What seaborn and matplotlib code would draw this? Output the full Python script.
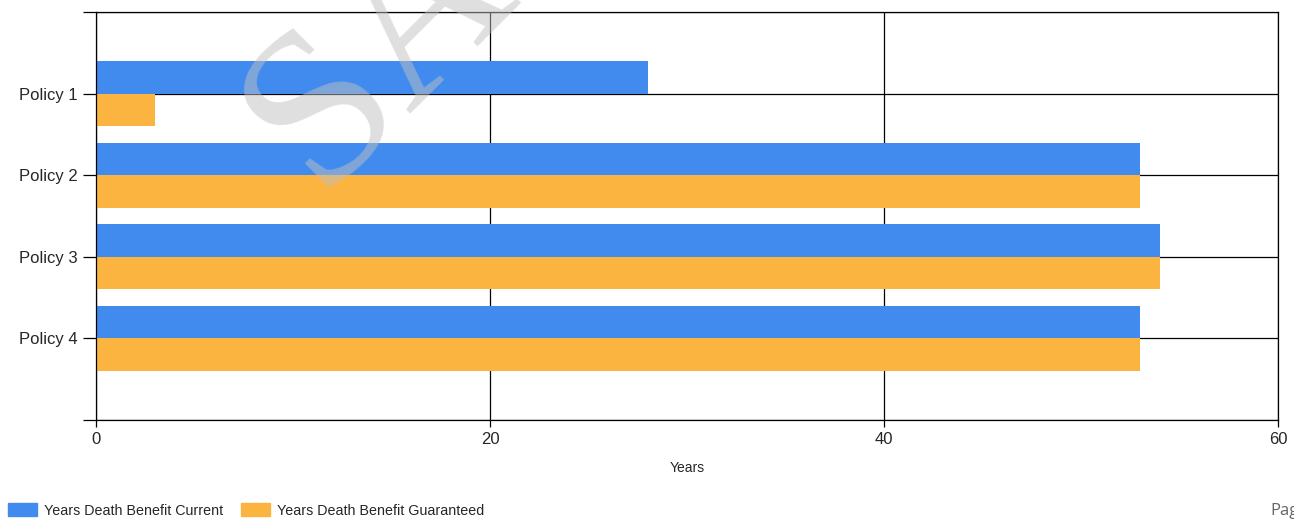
import pandas as pd
import seaborn as sns
import matplotlib.pyplot as plt
from matplotlib.patches import Patch

# values
policies = ["Policy 1", "Policy 2", "Policy 3", "Policy 4"]
current = [28, 53, 54, 53]
guaranteed = [3, 53, 54, 53]
series = ["Years Death Benefit Current", "Years Death Benefit Guaranteed"]
x_ticks = [0, 20, 40, 60]

df = pd.DataFrame({
    "policy": policies * 2,
    "years": current + guaranteed,
    "series": [series[0]] * 4 + [series[1]] * 4,
})

sns.set_style("white")
plt.rcParams['font.family'] = ['Liberation Sans', 'DejaVu Sans']

fig = plt.figure(figsize=(12.94, 5.21), dpi=100)
ax = fig.add_axes([96/1294, 1 - 420/521, (1278-96)/1294, (420-12)/521])

sns.barplot(data=df, x="years", y="policy", hue="series", orient="h",
            palette=["#418bee", "#fbb440"], width=0.8, saturation=1,
            linewidth=0, ax=ax, legend=False)

ax.set_axisbelow(True)
ax.set_xlim(0, 60)
ax.set_ylim(4, -1)
ax.set_xticks(x_ticks)
ax.set_yticks([-1, 0, 1, 2, 3, 4])
ax.set_yticklabels([""] + policies + [""], fontsize=12)
ax.set_xticklabels([str(t) for t in x_ticks], fontsize=12)
ax.set_ylabel("")
ax.set_xlabel("Years", fontsize=10, labelpad=10)

ax.grid(True, color="black", linewidth=0.9)
for s in ax.spines.values():
    s.set_color("black")
    s.set_linewidth(0.9)
ax.tick_params(axis="y", direction="out", length=9.4, width=0.9, color="black", pad=3.6)
ax.tick_params(axis="x", direction="out", length=5, width=0.9, color="black", pad=4)
ax.tick_params(axis="both", left=True, bottom=True)

# legend under the chart, lower left
handles = [Patch(color="#418bee"), Patch(color="#fbb440")]
fig.legend(handles, series, loc="center left", bbox_to_anchor=(8/1294, 1 - 510.5/521),
           ncol=2, frameon=False, fontsize=10.3, handlelength=2.0, handleheight=0.95,
           handletextpad=0.5, columnspacing=1.3, borderpad=0, borderaxespad=0)

# watermark
fig.text(318/1294, 1 - 192/521, "SAMPLE", rotation=45, rotation_mode="anchor",
         ha="left", va="baseline", fontsize=160, family="Liberation Serif",
         color="#c0c0c0", alpha=0.5, zorder=10)

fig.text(1270/1294, 1 - 515/521, "Page", ha="left", va="baseline",
         fontsize=12, family="Open Sans", color="#666666")

fig.savefig("out.png", dpi=100)
